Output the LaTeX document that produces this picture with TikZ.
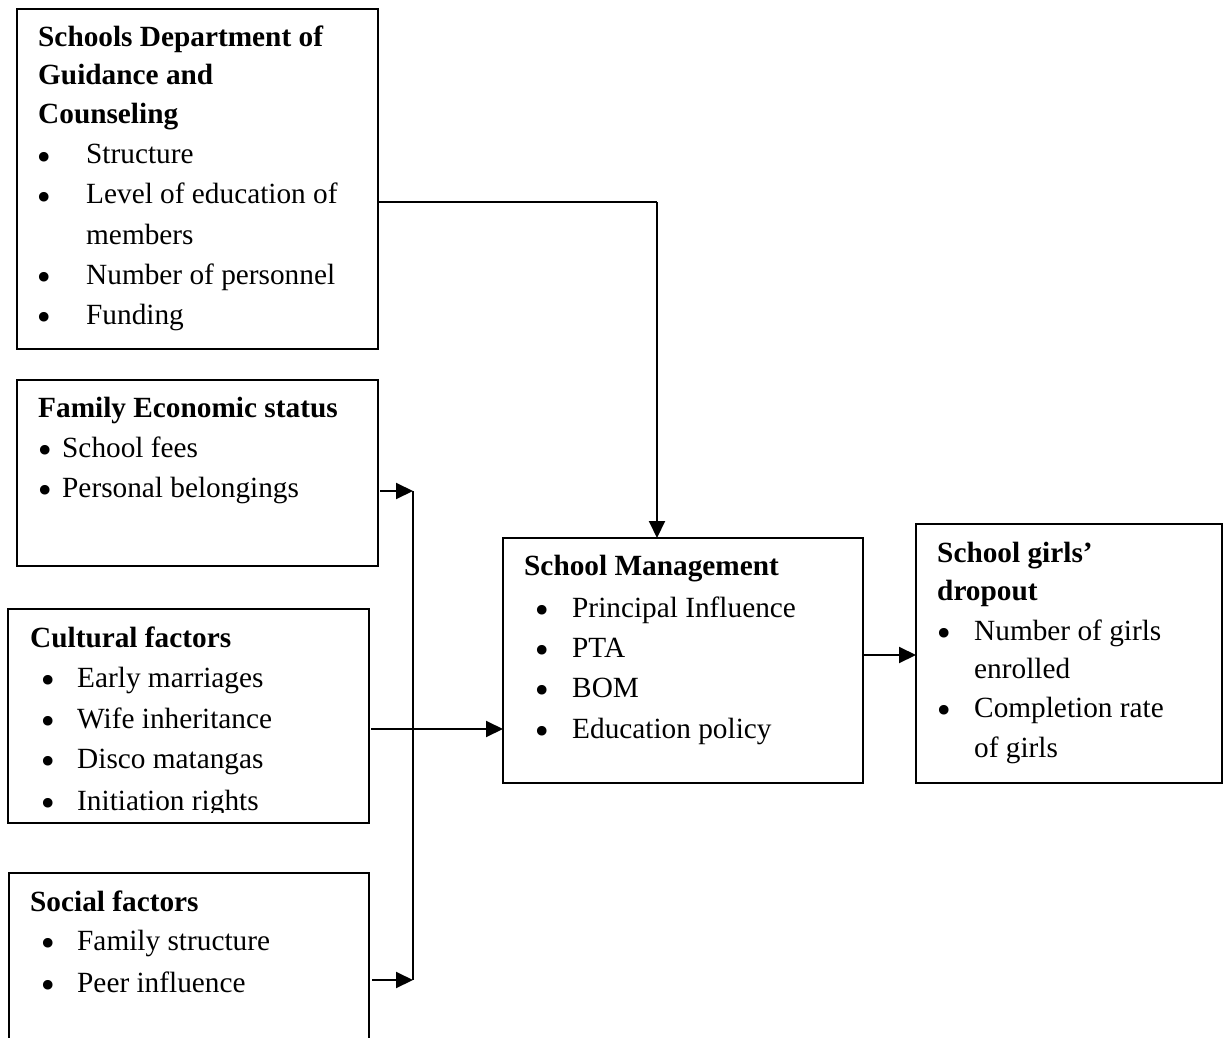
\documentclass[tikz,border=0pt]{standalone}
\usepackage{fontspec}
\setmainfont{Liberation Serif}
\newfontfamily\bulfont{DejaVu Sans}
\usetikzlibrary{arrows.meta}
\newcommand{\bulglyph}{{\fontsize{33}{40}\bulfont •}}
\begin{document}
\begin{tikzpicture}[x=1pt,y=-1pt,
  box/.style={draw, line width=2pt, inner sep=0pt, outer sep=0pt},
  txt/.style={anchor=base west, inner sep=0pt, font=\fontsize{29.3}{40}\selectfont},
  hd/.style={anchor=base west, inner sep=0pt, font=\fontsize{29.3}{40}\selectfont\bfseries},
  bul/.style={anchor=base, inner sep=0pt, yshift=-5pt},
  conn/.style={line width=2pt},
  arr/.style={line width=2pt, -{Triangle[length=17pt,width=16pt]}}]
\clip (0,0) rectangle (1229,1038);
\fill[white] (0,0) rectangle (1229,1038);

% boxes
\node[box, minimum width=361pt, minimum height=340pt] (b1) at (197.5,179) {};
\node[box, minimum width=361pt, minimum height=186pt] (b2) at (197.5,473) {};
\node[box, minimum width=361pt, minimum height=214pt] (b3) at (188.5,716) {};
\node[box, minimum width=360pt, minimum height=187pt] (b4) at (189,966.5) {};
\node[box, minimum width=360pt, minimum height=245pt] (b5) at (683,660.5) {};
\node[box, minimum width=306pt, minimum height=259pt] (b6) at (1069,653.5) {};

% box 1 text
\node[hd] (h1a) at (38,47) {Schools Department of};
\node[hd] (h1b) at (38,85) {Guidance and};
\node[hd] (h1c) at (38,124) {Counseling};
\node[bul] (p1a) at (44.5,164) {\bulglyph};
\node[txt] (t1a) at (86,164) {Structure};
\node[bul] (p1b) at (44.5,204) {\bulglyph};
\node[txt] (t1b) at (86,204) {Level of education of};
\node[txt] (t1c) at (86,244) {members};
\node[bul] (p1d) at (44.5,284) {\bulglyph};
\node[txt] (t1d) at (86,284) {Number of personnel};
\node[bul] (p1e) at (44.5,324) {\bulglyph};
\node[txt] (t1e) at (86,324) {Funding};

% box 2 text
\node[hd] (h2) at (38,417) {Family Economic status};
\node[bul] (p2a) at (45,457) {\bulglyph};
\node[txt] (t2a) at (62,457) {School fees};
\node[bul] (p2b) at (45,497) {\bulglyph};
\node[txt] (t2b) at (62,497) {Personal belongings};

% box 3 text
\node[hd] (h3) at (30,647) {Cultural factors};
\node[bul] (p3a) at (48,687) {\bulglyph};
\node[txt] (t3a) at (77,687) {Early marriages};
\node[bul] (p3b) at (48,728) {\bulglyph};
\node[txt] (t3b) at (77,728) {Wife inheritance};
\node[bul] (p3c) at (48,768) {\bulglyph};
\node[txt] (t3c) at (77,768) {Disco matangas};
\begin{scope}
\clip (10,780) rectangle (360,812);
\node[bul] (p3d) at (48,810) {\bulglyph};
\node[txt] (t3d) at (77,810) {Initiation rights};
\end{scope}

% box 4 text
\node[hd] (h4) at (30,911) {Social factors};
\node[bul] (p4a) at (48,950) {\bulglyph};
\node[txt] (t4a) at (77,950) {Family structure};
\node[bul] (p4b) at (48,992) {\bulglyph};
\node[txt] (t4b) at (77,992) {Peer influence};

% box 5 text
\node[hd] (h5) at (524,575) {School Management};
\node[bul] (p5a) at (542,617) {\bulglyph};
\node[txt] (t5a) at (572,617) {Principal Influence};
\node[bul] (p5b) at (542,657) {\bulglyph};
\node[txt] (t5b) at (572,657) {PTA};
\node[bul] (p5c) at (542,697) {\bulglyph};
\node[txt] (t5c) at (572,697) {BOM};
\node[bul] (p5d) at (542,738) {\bulglyph};
\node[txt] (t5d) at (572,738) {Education policy};

% box 6 text
\node[hd] (h6a) at (937,562) {School girls’};
\node[hd] (h6b) at (937,600) {dropout};
\node[bul] (p6a) at (944,640) {\bulglyph};
\node[txt] (t6a) at (974,640) {Number of girls};
\node[txt] (t6b) at (974,678) {enrolled};
\node[bul] (p6c) at (944,717) {\bulglyph};
\node[txt] (t6c) at (974,717) {Completion rate};
\node[txt] (t6d) at (974,757) {of girls};

% connectors
\coordinate (j1) at (657,202);
\coordinate (bus) at (413,491);
\coordinate (soc) at (413,980);
\coordinate (cul) at (0,729);
\coordinate (out) at (0,655);
\draw[conn] (b1.east |- j1) -- (j1);
\draw[arr] (j1) -- (j1 |- b5.north);
\draw[arr, shorten <=2pt] (b2.east |- bus) -- (bus);
\draw[conn] (bus) -- (soc);
\draw[arr, shorten <=3pt] (b4.east |- soc) -- (soc);
\draw[arr, shorten <=2pt] (b3.east |- cul) -- (b5.west |- cul);
\draw[arr] (b5.east |- out) -- (b6.west |- out);
\end{tikzpicture}
\end{document}
